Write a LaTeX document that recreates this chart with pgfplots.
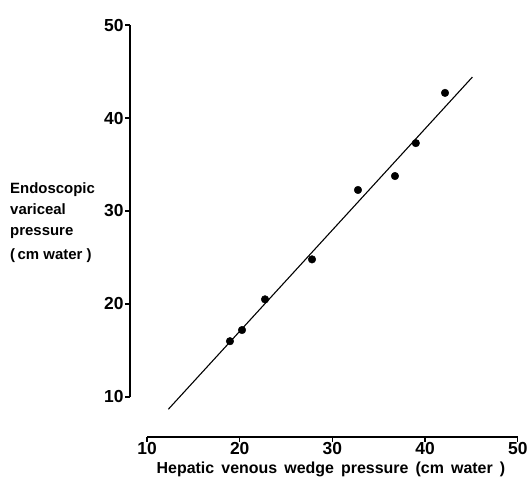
\documentclass[border=0pt]{standalone}
\usepackage{fontspec}
\setmainfont{Liberation Sans}
\usepackage{pgfplots}
\pgfplotsset{compat=1.18}

\begin{document}
\begin{tikzpicture}
\begin{axis}[
  x=9.27bp, y=9.3bp,
  xmin=8.17, xmax=50, ymin=5.7, ymax=50,
  axis x line=bottom, axis y line=left,
  axis line style={draw=none, -},
  xtick={10,20,30,40,50}, ytick={10,20,30,40,50},
  tick align=outside,
  major tick length=5bp,
  tick style={black, line width=1.4pt},
  /pgf/number format/assume math mode=true,
  ticklabel style={font=\bfseries\fontsize{17.5}{17.5}\selectfont},
  xticklabel style={yshift=3bp},
  yticklabel style={xshift=2bp},
  clip=false,
]
\addplot[only marks, mark=*, mark size=3.8bp, black] coordinates {
  (18.95,16.0) (20.25,17.2) (22.73,20.5) (27.8,24.8)
  (32.76,32.26) (36.75,33.76) (39.0,37.3) (42.15,42.7)
};
\addplot[black, line width=1.1pt] coordinates {(12.3,8.68) (45.1,44.4)};
\draw[line width=1.6pt] (axis cs:10,5.7) -- (axis cs:50,5.7);
\draw[line width=1.6pt] (axis cs:8.17,10) -- (axis cs:8.17,50);
\node[font=\bfseries\fontsize{16}{16}\selectfont] at (axis cs:29.85,2.2)
  {\spaceskip=0.45em plus 0.1em\relax Hepatic venous wedge pressure (cm water )};
\node[anchor=north west, align=left, inner sep=0pt,
  font=\bfseries\fontsize{15}{21}\selectfont] at (axis cs:-4.78,33.1)
  {Endoscopic\\variceal\\pressure\\[4bp](\,cm water )};
\coordinate (bl) at (axis cs:-5.86,0.645);
\coordinate (tr) at (axis cs:51.21,52.69);
\end{axis}
\pgfresetboundingbox
\path[use as bounding box] (bl) rectangle (tr);
\end{tikzpicture}
\end{document}
